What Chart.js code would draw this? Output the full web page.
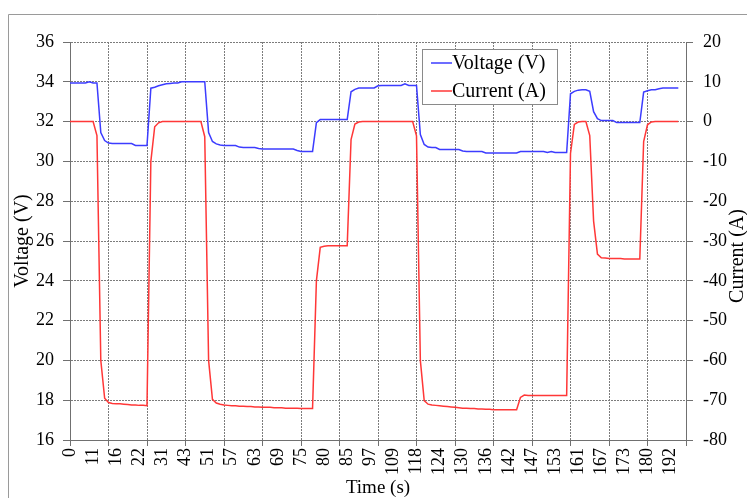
<!DOCTYPE html>
<html>
<head>
<meta charset="utf-8">
<script src="https://cdn.jsdelivr.net/npm/chart.js@4/dist/chart.umd.min.js"></script>
<style>
  html, body { margin: 0; padding: 0; background: #fff; }
  #wrap { width: 747px; height: 498px; }
</style>
</head>
<body>
<div id="wrap"><canvas id="c" width="747" height="498"></canvas></div>
<script>
// Sample-time labels shown under every sixth sample
const timeLabels = ['0','11','16','22','31','43','51','57','63','69','75','80','85','97',
  '109','118','124','130','136','142','147','153','161','167','173','180','192'];

// Voltage (V) per sample
const voltage = [
  33.94, 33.94, 33.94, 33.94, 33.94, 34.0, 33.94, 33.94, 31.45, 31.05,
  30.92, 30.9, 30.9, 30.9, 30.9, 30.9, 30.9, 30.8, 30.8, 30.8,
  30.8, 33.68, 33.73, 33.8, 33.85, 33.9, 33.92, 33.94, 33.94, 34.0,
  34.0, 34.0, 34.0, 34.0, 34.0, 34.0, 31.45, 31.0, 30.88, 30.82,
  30.8, 30.8, 30.8, 30.8, 30.72, 30.7, 30.7, 30.7, 30.7, 30.65,
  30.62, 30.62, 30.62, 30.62, 30.62, 30.62, 30.62, 30.62, 30.62, 30.55,
  30.5, 30.5, 30.5, 30.5, 31.95, 32.1, 32.1, 32.1, 32.1, 32.1,
  32.1, 32.1, 32.1, 33.5, 33.62, 33.69, 33.69, 33.69, 33.69, 33.69,
  33.8, 33.82, 33.82, 33.82, 33.82, 33.82, 33.82, 33.9, 33.82, 33.82,
  33.82, 31.35, 30.85, 30.72, 30.7, 30.7, 30.6, 30.6, 30.6, 30.6,
  30.6, 30.6, 30.52, 30.5, 30.5, 30.5, 30.5, 30.5, 30.42, 30.42,
  30.42, 30.42, 30.42, 30.42, 30.42, 30.42, 30.42, 30.5, 30.5, 30.5,
  30.5, 30.5, 30.5, 30.5, 30.45, 30.5, 30.45, 30.45, 30.45, 30.45,
  33.4, 33.52, 33.58, 33.6, 33.6, 33.52, 32.5, 32.15, 32.05, 32.05,
  32.05, 32.05, 31.95, 31.95, 31.95, 31.95, 31.95, 31.95, 31.95, 33.48,
  33.55, 33.6, 33.6, 33.65, 33.69, 33.69, 33.69, 33.69, 33.69
];

// Current (A) per sample
const current = [
  0, 0, 0, 0, 0, 0, 0, -3.5, -60, -69.5,
  -70.6, -70.8, -70.9, -70.9, -71.0, -71.1, -71.2, -71.2, -71.3, -71.3,
  -71.4, -10, -1.3, -0.3, 0, 0, 0, 0, 0, 0,
  0, 0, 0, 0, 0, -3.8, -60, -69.8, -70.7, -71.0,
  -71.2, -71.3, -71.4, -71.4, -71.5, -71.5, -71.6, -71.6, -71.7, -71.7,
  -71.8, -71.8, -71.8, -71.9, -71.9, -71.9, -72.0, -72.0, -72.0, -72.0,
  -72.1, -72.1, -72.1, -72.1, -40, -31.6, -31.3, -31.2, -31.2, -31.2,
  -31.2, -31.2, -31.2, -4.5, -0.6, -0.1, 0, 0, 0, 0,
  0, 0, 0, 0, 0, 0, 0, 0, 0, 0,
  -3.6, -60, -70.1, -71.0, -71.2, -71.3, -71.4, -71.5, -71.6, -71.7,
  -71.8, -71.9, -72.0, -72.0, -72.1, -72.1, -72.2, -72.2, -72.3, -72.3,
  -72.4, -72.4, -72.4, -72.4, -72.4, -72.4, -72.4, -69.3, -68.7, -68.8,
  -68.8, -68.8, -68.8, -68.8, -68.8, -68.8, -68.8, -68.8, -68.8, -68.8,
  -8, -0.7, -0.1, 0, 0, -3.5, -25, -33.3, -34.2, -34.3,
  -34.4, -34.4, -34.4, -34.4, -34.5, -34.5, -34.5, -34.5, -34.5, -5,
  -0.8, -0.1, 0, 0, 0, 0, 0, 0, 0
];

const LABEL_EVERY = 6;   // time label spacing, in samples
const GRID_EVERY = 10;   // grid line spacing, in samples
const X_MAX = 160;

const SERIF = "'Liberation Serif', 'Times New Roman', serif";
const BLUE = 'rgb(60,60,255)';
const RED = 'rgb(255,55,55)';
const GRID = '#7c7c7c';
const AXIS = '#707070';

const toPoints = arr => arr.map((v, i) => ({ x: i, y: v }));

// White page, frame, right-hand title and in-plot legend
const decorations = {
  id: 'decorations',
  beforeDraw(chart) {
    const ctx = chart.ctx;
    ctx.save();
    ctx.fillStyle = '#fff';
    ctx.fillRect(0, 0, chart.width, chart.height);
    ctx.strokeStyle = '#9a9a9a';
    ctx.lineWidth = 1;
    ctx.beginPath();
    ctx.moveTo(8.5, chart.height);
    ctx.lineTo(8.5, 14.5);
    ctx.lineTo(chart.width, 14.5);
    ctx.stroke();
    ctx.restore();
  },
  afterDraw(chart) {
    const ctx = chart.ctx;
    const area = chart.chartArea;
    ctx.save();
    // right axis title, reading bottom to top
    ctx.font = '20px ' + SERIF;
    ctx.fillStyle = '#000';
    ctx.textAlign = 'center';
    ctx.textBaseline = 'middle';
    ctx.translate(738, (area.top + area.bottom) / 2 + 15);
    ctx.rotate(-Math.PI / 2);
    ctx.fillText('Current (A)', 0, 0);
    ctx.restore();

    // legend box
    ctx.save();
    const bx = 422.5, by = 49.5, bw = 135, bh = 55;
    ctx.fillStyle = '#fff';
    ctx.fillRect(bx, by, bw, bh);
    ctx.strokeStyle = '#8a8a8a';
    ctx.lineWidth = 1;
    ctx.strokeRect(bx, by, bw, bh);
    ctx.font = '20px ' + SERIF;
    ctx.textAlign = 'left';
    ctx.textBaseline = 'middle';
    const rows = [63, 91];
    chart.data.datasets.forEach((ds, k) => {
      const y = rows[k];
      ctx.strokeStyle = ds.borderColor;
      ctx.lineWidth = 1.5;
      ctx.beginPath();
      ctx.moveTo(431, y);
      ctx.lineTo(452, y);
      ctx.stroke();
      ctx.fillStyle = '#000';
      ctx.fillText(ds.label, 452, y + 1);
    });
    ctx.restore();
  }
};

new Chart(document.getElementById('c'), {
  type: 'line',
  data: {
    datasets: [
      {
        label: 'Voltage (V)',
        data: toPoints(voltage),
        yAxisID: 'y',
        borderColor: BLUE,
        borderWidth: 1.5,
        pointRadius: 0,
        tension: 0,
        fill: false
      },
      {
        label: 'Current (A)',
        data: toPoints(current),
        yAxisID: 'y1',
        borderColor: RED,
        borderWidth: 1.5,
        pointRadius: 0,
        tension: 0,
        fill: false
      }
    ]
  },
  options: {
    responsive: false,
    animation: false,
    devicePixelRatio: 1,
    layout: { padding: { top: 42, left: 0, right: 0, bottom: 0 } },
    plugins: {
      legend: { display: false },
      tooltip: { enabled: false }
    },
    scales: {
      x: {
        type: 'linear',
        min: 0,
        max: X_MAX,
        afterFit: s => { s.height = 58; },
        ticks: {
          stepSize: 1,
          autoSkip: false,
          maxTicksLimit: 1000,
          minRotation: 90,
          maxRotation: 90,
          padding: 2,
          color: '#000',
          font: { family: SERIF, size: 18 },
          callback: v => (v % LABEL_EVERY === 0 && timeLabels[v / LABEL_EVERY] !== undefined)
            ? timeLabels[v / LABEL_EVERY] : ''
        },
        grid: {
          color: c => (c.tick && c.tick.value % GRID_EVERY === 0) ? GRID : 'rgba(0,0,0,0)',
          tickColor: c => (c.tick && c.tick.value % GRID_EVERY === 0) ? AXIS : 'rgba(0,0,0,0)',
          tickLength: 6,
          lineWidth: 1
        },
        border: { display: true, color: AXIS, dash: [2, 1] },
        title: {
          display: true,
          text: 'Time (s)',
          color: '#000',
          font: { family: SERIF, size: 19, lineHeight: 1 },
          padding: { top: 0, bottom: 0 }
        }
      },
      y: {
        position: 'left',
        min: 16,
        max: 36,
        afterFit: s => { s.width = 70; },
        ticks: {
          stepSize: 2,
          padding: 9,
          color: '#000',
          font: { family: SERIF, size: 18 }
        },
        grid: { color: GRID, tickColor: AXIS, tickLength: 7, lineWidth: 1 },
        border: { display: true, color: AXIS, dash: [2, 1] },
        title: {
          display: true,
          text: 'Voltage (V)',
          color: '#000',
          font: { family: SERIF, size: 20, lineHeight: 1 },
          padding: { top: 13, bottom: 0 }
        }
      },
      y1: {
        position: 'right',
        min: -80,
        max: 20,
        afterFit: s => { s.width = 61; },
        ticks: {
          stepSize: 10,
          padding: 10,
          color: '#000',
          font: { family: SERIF, size: 18 }
        },
        grid: { drawOnChartArea: false, tickColor: AXIS, tickLength: 7 },
        border: { display: true, color: AXIS }
      }
    }
  },
  plugins: [decorations]
});
</script>
</body>
</html>
